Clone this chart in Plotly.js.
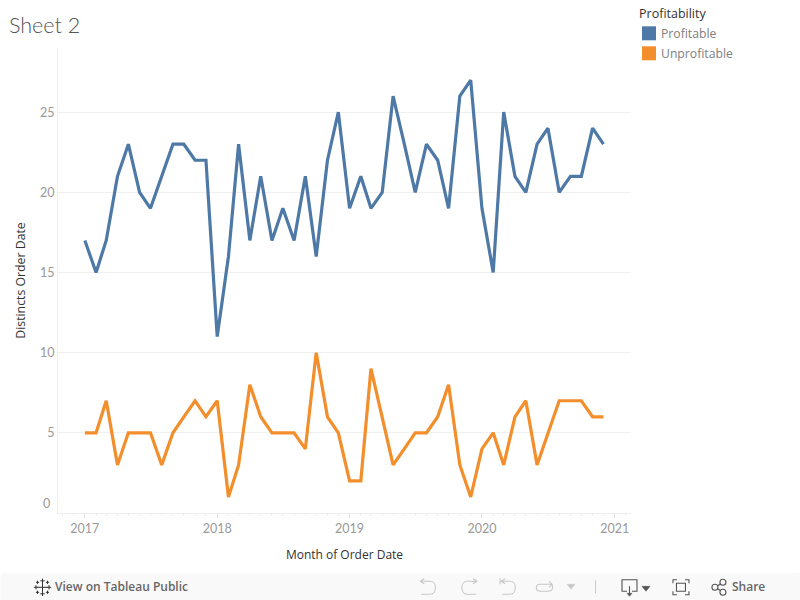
<!DOCTYPE html>
<html><head><meta charset="utf-8">
<script src="https://cdn.plot.ly/plotly-3.0.1.min.js"></script>
<style>html,body{margin:0;padding:0;background:#fff;overflow:hidden}</style>
</head><body><div id="chart" style="width:800px;height:600px"></div>
<script>
const months = [];
for (const yr of [2017, 2018, 2019, 2020]) for (const m of ['01','02','03','04','05','06','07','08','09','10','11','12']) months.push(yr + '-' + m + '-01');
const profitable = [17,15,17,21,23,20,19,21,23,23,22,22, 11,16,23,17,21,17,19,17,21,16,22,25, 19,21,19,20,26,23,20,23,22,19,26,27, 19,15,25,21,20,23,24,20,21,21,24,23];
const unprofitable = [5,5,7,3,5,5,5,3,5,6,7,6, 7,1,3,8,6,5,5,5,4,10,6,5, 2,2,9,6,3,4,5,5,6,8,3,1, 4,5,3,6,7,3,5,7,7,7,6,6];
const yTicks = [5,10,15,20,25];
const FONT = 'Lato, "Open Sans", sans-serif';
const UI = '"Open Sans", sans-serif';
const BLUE = '#4e79a7', ORANGE = '#f28e2b';
const W = 800, H = 600;
const M = {l:57.5, r:169, t:47.7, b:87.3};
const PW = W - M.l - M.r, PH = H - M.t - M.b;
const fx = x => (x - M.l) / PW, fy = y => 1 - (y - M.t) / PH;
function P(d){ let i = 0; return d.replace(/-?\d+(\.\d+)?/g, n => (i++ % 2 === 0 ? fx(+n) : fy(+n)).toFixed(5)); }
function icon(d, color, w, fill){ return {type:'path', xref:'paper', yref:'paper', path:P(d), layer:'above', line:{color:color, width:w===undefined?1.1:w}, fillcolor:fill||'rgba(0,0,0,0)'}; }
function box(x0,y0,x1,y1,fill,layer){ return {type:'rect', xref:'paper', yref:'paper', x0:fx(x0), x1:fx(x1), y0:fy(y0), y1:fy(y1), fillcolor:fill, line:{width:0}, layer:layer||'above'}; }
function label(text,x,y,size,color,family,weight){ return {text:text, xref:'paper', yref:'paper', x:fx(x), y:fy(y), xanchor:'left', yanchor:'middle', showarrow:false, font:{family:family||FONT,size:size,color:color,weight:weight||400}, borderpad:0, align:'left'}; }
function plus(x,y,r){ return 'M'+x+' '+(y-r)+' L'+x+' '+(y+r)+' M'+(x-r)+' '+y+' L'+(x+r)+' '+y+' '; }
function ring(x,y,r){ const k=r*0.55; return 'M'+(x-r)+' '+y+' C'+(x-r)+' '+(y-k)+' '+(x-k)+' '+(y-r)+' '+x+' '+(y-r)+' C'+(x+k)+' '+(y-r)+' '+(x+r)+' '+(y-k)+' '+(x+r)+' '+y+' C'+(x+r)+' '+(y+k)+' '+(x+k)+' '+(y+r)+' '+x+' '+(y+r)+' C'+(x-k)+' '+(y+r)+' '+(x-r)+' '+(y+k)+' '+(x-r)+' '+y+' Z'; }
const G='#c8c8c8', D='#555555';
const shapes = [
  box(0,573,800,600,'#f9f9f9','below'),
  box(642,26,656,40,BLUE), box(642,46,656,60,ORANGE),
  icon(plus(42,587,5)+plus(42,580.5,2.2)+plus(42,593.5,2.2)+plus(35.5,587,2.2)+plus(48.5,587,2.2)+plus(37,582,1.6)+plus(47,582,1.6)+plus(37,592,1.6)+plus(47,592,1.6), '#333333', 1),
  icon('M420 581 L424 578.5 M420 581 L424 583.5 M420 581 L430 581 C437 581 437 594 430 594 L421 594', G),
  icon('M477 581 L473 578.5 M477 581 L473 583.5 M477 581 L467 581 C460 581 460 594 467 594 L476 594', G),
  icon('M500 578 L500 584 M501 581 L505 578.5 M501 581 L505 583.5 M501 581 L510 581 C517 581 517 594 510 594 L502 594', G),
  icon('M552 584 L540 584 C535 584 535 591 540 591 L548 591 C553 591 553 587 552 584 M549 581 L552 584 L549 587', G),
  icon('M567 584 L575 584 L571 589 Z', G, 0.5, G),
  icon('M595.5 580 L595.5 593', G, 1),
  icon('M627 591 L622 591 L622 579.5 L637 579.5 L637 591 L632 591 M629.5 586 L629.5 594', D),
  icon('M627 593 L632 593 L629.5 596 Z', D, 0.5, D),
  icon('M642 586 L650 586 L646 591 Z', D, 0.5, D),
  icon('M673 583 L673 579.5 L677 579.5 M685 579.5 L689 579.5 L689 583 M689 591 L689 594.5 L685 594.5 M677 594.5 L673 594.5 L673 591', D),
  icon('M676.5 583 L685.5 583 L685.5 591 L676.5 591 Z', D),
  icon('M718 585.5 L720.5 583.5 M718 588.5 L720.5 590.5', D),
  icon(ring(715,587,3), D), icon(ring(723,582,3), D), icon(ring(723,592,3), D)
];
const annotations = [
  label('Sheet 2', 7.5, 25, 21.5, '#555555', FONT, 300),
  label('Profitability', 638.5, 13, 12.5, '#333333', UI),
  label('Profitable', 660, 33, 12.2, '#808080', UI),
  label('Unprofitable', 660, 53, 12.2, '#808080', UI),
  label('0', 41.5, 503, 12.5, '#999999'),
  label('View on Tableau Public', 53.5, 586.5, 12, '#666666', UI, 600),
  label('Share', 731.5, 586.5, 12, '#666666', UI, 600)
];
const traces = [
  {x:months, y:profitable, name:'Profitable', type:'scatter', mode:'lines', line:{color:BLUE, width:3.2, shape:'linear'}, hoverinfo:'x+y+name'},
  {x:months, y:unprofitable, name:'Unprofitable', type:'scatter', mode:'lines', line:{color:ORANGE, width:3.2, shape:'linear'}, hoverinfo:'x+y+name'}
];
const layout = {
  width:W, height:H, margin:M, showlegend:false, paper_bgcolor:'#fff', plot_bgcolor:'#fff',
  font:{family:FONT},
  xaxis:{type:'date', range:['2016-10-19','2021-02-15'], tickvals:['2017-01-01','2018-01-01','2019-01-01','2020-01-01','2021-01-01'], tickformat:'%Y',
    ticks:'outside', ticklen:4, tickcolor:'#e2e2e2', tickwidth:1, showgrid:false, zeroline:false, showline:true, linecolor:'#eeeeee', linewidth:1,
    minor:{dtick:'M1', ticks:'outside', ticklen:2, tickcolor:'#eeeeee', showgrid:false},
    tickfont:{family:FONT,size:12.5,color:'#999999'},
    title:{text:'Month of Order Date', font:{family:UI,size:12,color:'#333333'}, standoff:15}},
  yaxis:{range:[0,29], tickvals:yTicks, showgrid:true, gridcolor:'#f0f0f0', gridwidth:1, zeroline:false, showline:true, linecolor:'#eeeeee', linewidth:1, ticks:'',
    tickfont:{family:FONT,size:12.5,color:'#999999'},
    title:{text:'Distincts Order Date', font:{family:UI,size:12.3,color:'#333333'}, standoff:11}},
  shapes:shapes, annotations:annotations
};
Plotly.newPlot('chart', traces, layout, {displayModeBar:false, staticPlot:true});
</script></body></html>
